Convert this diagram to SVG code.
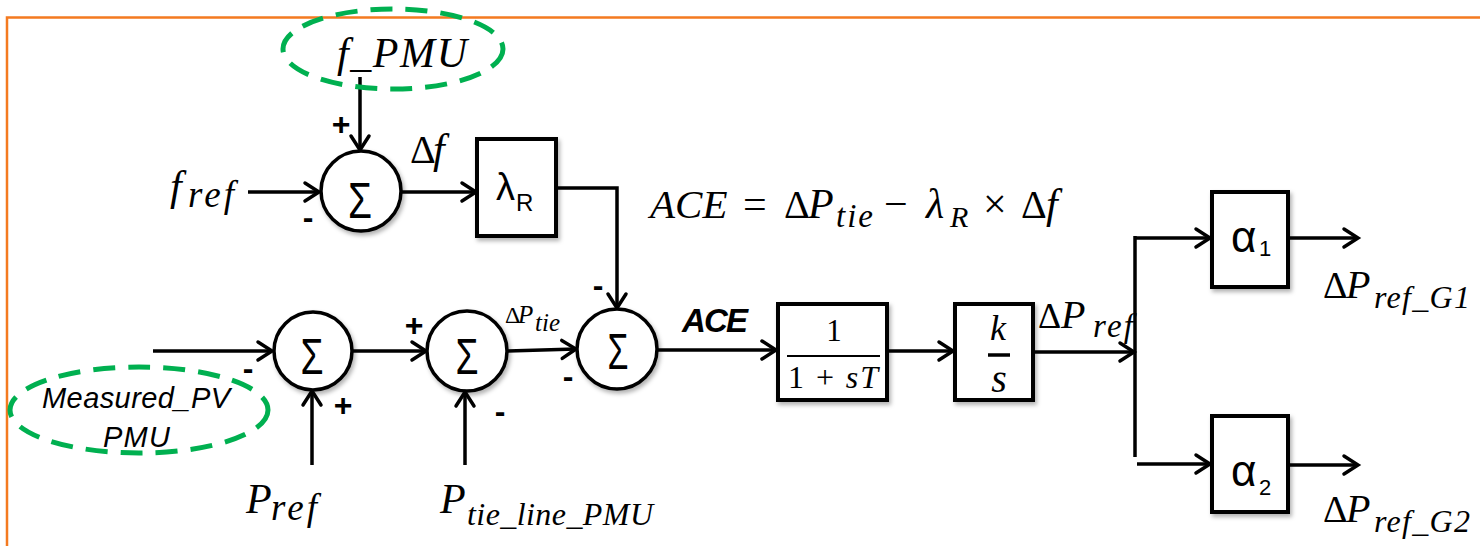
<svg xmlns="http://www.w3.org/2000/svg" width="1480" height="546" viewBox="0 0 1480 546">
<style>
.ln{fill:none;stroke:#000;stroke-width:3.5}
.bx{fill:#fff;stroke:#000;stroke-width:4}
.cr{fill:#fff;stroke:#000;stroke-width:3.5}
.el{fill:none;stroke:#00B050;stroke-width:5;stroke-dasharray:22 13}
.m{font-family:"Liberation Serif",serif;font-style:italic;fill:#000}
.u{font-family:"Liberation Serif",serif;fill:#000}
.s{font-family:"Liberation Sans",sans-serif;fill:#000}
.si{font-family:"Liberation Sans",sans-serif;font-style:italic;fill:#000}
.sg{font-family:"Liberation Sans",sans-serif;font-weight:bold;font-size:32px;text-anchor:middle;fill:#000}
.sig{font-family:"Liberation Sans",sans-serif;font-size:50px;text-anchor:middle;fill:#000}
</style>
<defs>
<marker id="ar" markerUnits="userSpaceOnUse" markerWidth="30" markerHeight="30" refX="0" refY="0" viewBox="-20 -15 30 30" orient="auto" overflow="visible">
<path d="M-14 -9 L0 0 L-14 9" fill="none" stroke="#000" stroke-width="3.5" stroke-linecap="round" stroke-linejoin="miter"/>
</marker>
<filter id="sh" x="-20%" y="-20%" width="140%" height="140%">
<feDropShadow dx="2" dy="3" stdDeviation="2" flood-color="#000" flood-opacity="0.3"/>
</filter>
</defs>
<rect width="1480" height="546" fill="#fff"/>
<rect x="7" y="17.5" width="1490" height="540" fill="none" stroke="#F47A20" stroke-width="2.5"/>

<g id="connectors">
<line class="ln" x1="360" y1="77" x2="360" y2="150" marker-end="url(#ar)"/>
<line class="ln" x1="248" y1="192" x2="319" y2="192" marker-end="url(#ar)"/>
<line class="ln" x1="402" y1="192" x2="476" y2="192" marker-end="url(#ar)"/>
<path class="ln" d="M556 188 H617 V308" marker-end="url(#ar)"/>
<line class="ln" x1="153" y1="351" x2="272" y2="351" marker-end="url(#ar)"/>
<line class="ln" x1="312" y1="465" x2="312" y2="391" marker-end="url(#ar)"/>
<line class="ln" x1="353" y1="351" x2="426" y2="351" marker-end="url(#ar)"/>
<line class="ln" x1="465" y1="465" x2="465" y2="392" marker-end="url(#ar)"/>
<line class="ln" x1="507" y1="351" x2="576" y2="349" marker-end="url(#ar)"/>
<line class="ln" x1="657" y1="350" x2="776" y2="350" marker-end="url(#ar)"/>
<line class="ln" x1="887" y1="351" x2="953" y2="351" marker-end="url(#ar)"/>
<line class="ln" x1="1033" y1="352" x2="1134" y2="352" marker-end="url(#ar)"/>
<line class="ln" x1="1135" y1="236" x2="1135" y2="457"/>
<line class="ln" x1="1134" y1="238" x2="1210" y2="238" marker-end="url(#ar)"/>
<line class="ln" x1="1137" y1="464" x2="1210" y2="464" marker-end="url(#ar)"/>
<line class="ln" x1="1288" y1="238" x2="1358" y2="238" marker-end="url(#ar)"/>
<line class="ln" x1="1288" y1="465" x2="1358" y2="465" marker-end="url(#ar)"/>
</g>

<g id="f_pmu">
<ellipse class="el" cx="393" cy="49" rx="110" ry="40"/>
<text class="m" x="337" y="67" font-size="42" textLength="130">f_PMU</text>
</g>

<g id="f_ref">
<text class="m" x="170" y="200" font-size="42">f</text>
<text class="m" x="188" y="207" font-size="37" textLength="46">ref</text>
</g>

<g id="sum1">
<circle class="cr" cx="361" cy="191" r="40" filter="url(#sh)"/>
<text class="sig" x="360" y="218" textLength="24" lengthAdjust="spacingAndGlyphs">Σ</text>
<text class="sg" x="341" y="135">+</text>
<text class="sg" x="308" y="228">-</text>
</g>

<g id="delta_f">
<text class="u" x="410" y="163" font-size="40">Δ</text>
<text class="m" x="433" y="163" font-size="42">f</text>
</g>

<g id="lambda">
<rect class="bx" x="477" y="139" width="79" height="97" filter="url(#sh)"/>
<text class="s" x="496" y="200" font-size="38">λ</text>
<text class="s" x="516" y="211" font-size="24">R</text>
</g>

<g id="formula">
<text class="m" x="650" y="218" font-size="41">ACE</text>
<text class="u" x="743" y="218" font-size="42">=</text>
<text class="u" x="784" y="218" font-size="40">Δ</text>
<text class="m" x="808" y="218" font-size="42">P</text>
<text class="m" x="836" y="227" font-size="33" textLength="37">tie</text>
<text class="u" x="884" y="218" font-size="42">−</text>
<text class="m" x="926" y="218" font-size="42">λ</text>
<text class="m" x="950" y="227" font-size="30">R</text>
<text class="u" x="983" y="218" font-size="42">×</text>
<text class="u" x="1021" y="218" font-size="40">Δ</text>
<text class="m" x="1046" y="218" font-size="42">f</text>
</g>

<g id="measured_pv">
<ellipse class="el" cx="139" cy="410" rx="129" ry="43"/>
<text class="si" x="42" y="408" font-size="29" textLength="188">Measured_PV</text>
<text class="si" x="103" y="447" font-size="29" textLength="67">PMU</text>
</g>

<g id="sum2">
<circle class="cr" cx="313" cy="351" r="39" filter="url(#sh)"/>
<text class="sig" x="312" y="374" textLength="23" lengthAdjust="spacingAndGlyphs">Σ</text>
<text class="sg" x="248" y="379">-</text>
<text class="sg" x="343" y="416">+</text>
</g>

<g id="p_ref">
<text class="m" x="246" y="513" font-size="42">P</text>
<text class="m" x="271" y="520" font-size="37" textLength="46">ref</text>
</g>

<g id="sumB">
<circle class="cr" cx="467" cy="351" r="40" filter="url(#sh)"/>
<text class="sig" x="467" y="374" textLength="23" lengthAdjust="spacingAndGlyphs">Σ</text>
<text class="sg" x="414" y="336">+</text>
<text class="sg" x="500" y="422">-</text>
</g>

<g id="p_tie_line">
<text class="m" x="440" y="513" font-size="42">P</text>
<text class="m" x="467" y="525" font-size="32" textLength="186">tie_line_PMU</text>
</g>

<g id="dptie">
<text class="u" x="505" y="323" font-size="24">Δ</text>
<text class="m" x="518" y="323" font-size="25">P</text>
<text class="m" x="535" y="331" font-size="25">tie</text>
</g>

<g id="sum3">
<circle class="cr" cx="617" cy="349" r="40" filter="url(#sh)"/>
<text class="sig" x="618" y="369" textLength="21" lengthAdjust="spacingAndGlyphs">Σ</text>
<text class="sg" x="598" y="296">-</text>
<text class="sg" x="568" y="387">-</text>
</g>

<g id="ace">
<text class="si" x="682" y="332" font-size="33" font-weight="bold" textLength="66">ACE</text>
</g>

<g id="lowpass">
<rect class="bx" x="778" y="304" width="109" height="96" filter="url(#sh)"/>
<text class="u" x="834" y="341" font-size="31" text-anchor="middle">1</text>
<line x1="787" y1="356" x2="880" y2="356" stroke="#000" stroke-width="2"/>
<text class="u" x="788" y="388" font-size="32" textLength="90">1 + <tspan font-style="italic">sT</tspan></text>
</g>

<g id="integrator">
<rect class="bx" x="955" y="304" width="78" height="96" filter="url(#sh)"/>
<text class="m" x="998" y="340" font-size="36" text-anchor="middle">k</text>
<line x1="988" y1="355" x2="1010" y2="355" stroke="#000" stroke-width="3.5"/>
<text class="m" x="999" y="392" font-size="40" text-anchor="middle">s</text>
</g>

<g id="dpref">
<text class="u" x="1038" y="328" font-size="36">Δ</text>
<text class="m" x="1061" y="328" font-size="40">P</text>
<text class="m" x="1093" y="337" font-size="33" textLength="40">ref</text>
</g>

<g id="alpha1">
<rect class="bx" x="1212" y="192" width="76" height="95" filter="url(#sh)"/>
<text class="s" x="1231" y="252" font-size="44">α</text>
<text class="s" x="1259" y="256" font-size="22">1</text>
</g>

<g id="alpha2">
<rect class="bx" x="1212" y="416" width="76" height="96" filter="url(#sh)"/>
<text class="s" x="1231" y="486" font-size="44">α</text>
<text class="s" x="1259" y="495" font-size="22">2</text>
</g>

<g id="out_g1">
<text class="u" x="1323" y="298" font-size="38">Δ</text>
<text class="m" x="1346" y="298" font-size="40">P</text>
<text class="m" x="1374" y="308" font-size="32" textLength="96">ref_G1</text>
</g>

<g id="out_g2">
<text class="u" x="1323" y="522" font-size="38">Δ</text>
<text class="m" x="1346" y="522" font-size="40">P</text>
<text class="m" x="1374" y="532" font-size="32" textLength="96">ref_G2</text>
</g>
</svg>
